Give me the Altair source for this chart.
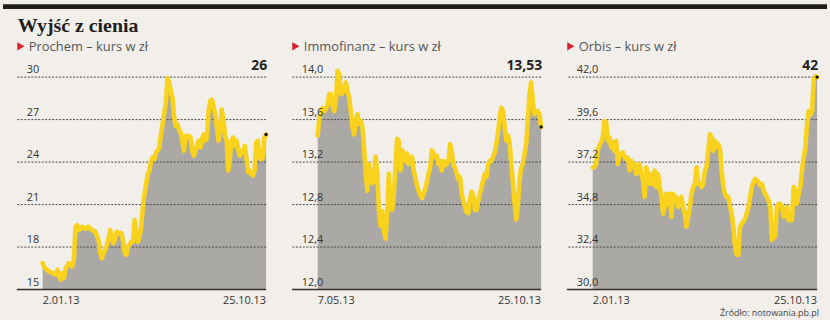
import altair as alt
import pandas as pd

# ---------------- data ----------------
prochem = [16.87, 16.6, 16.45, 16.35, 16.28, 16.2, 16.17, 16.1, 16.05, 16.4,
           15.93, 15.7, 16.17, 15.82, 16.5, 16.7, 16.87, 16.75, 16.63, 17.1,
           19.43, 19.55, 19.2, 19.3, 19.43, 19.35, 19.3, 19.4, 19.43, 19.3,
           19.2, 19.15, 19.08, 18.8, 18.5, 17.57, 17.2, 17.57, 17.8, 18.1,
           18.5, 19.2, 18.73, 18.27, 18.5, 19.08, 18.97, 19.0, 18.97, 18.38,
           17.57, 17.45, 18.03, 18.2, 18.38, 18.38, 19.9, 18.97, 18.38, 18.73,
           19.43, 20.83, 21.76, 22.46, 23.16, 23.4, 24.1, 24.33, 24.2, 24.68,
           24.8, 25.03, 25.96, 26.66, 27.48, 28.2, 29.93, 29.6, 29.0, 28.53,
           27.13, 26.55, 26.66, 26.31, 26.08, 25.5, 24.8, 25.85, 25.73, 25.85,
           25.73, 24.8, 24.45, 24.8, 25.26, 25.5, 25.03, 25.61, 25.96, 25.5,
           25.73, 27.6, 28.3, 28.41, 27.95, 27.36, 26.55, 25.5, 26.08, 27.71,
           27.0, 25.85, 25.5, 23.4, 24.33, 25.5, 25.73, 25.15, 25.5, 24.9,
           24.45, 24.8, 24.68, 25.15, 24.33, 23.28, 23.4, 23.16, 23.05, 23.4,
           25.38, 25.5, 24.33, 24.2, 24.33, 25.73, 25.95]

immofinanz = [13.45, 13.62, 13.66, 13.71, 13.68, 13.70, 13.74, 13.84, 13.84, 13.73,
              13.68, 13.77, 14.06, 14.03, 13.84, 13.85, 13.90, 13.95, 13.87, 13.81,
              13.68, 13.53, 13.46, 13.59, 13.65, 13.56, 13.59, 13.53, 13.34, 13.09,
              12.93, 13.18, 13.09, 13.00, 13.03, 13.25, 13.09, 12.75, 12.60, 12.74,
              12.56, 12.48, 12.72, 13.09, 12.78, 12.75, 12.90, 13.15, 13.42, 13.40,
              13.12, 13.31, 13.28, 13.21, 13.28, 13.18, 13.21, 13.25, 13.12, 13.06,
              12.98, 12.93, 12.89, 12.86, 12.90, 12.95, 13.01, 13.09, 13.15, 13.31,
              13.28, 13.25, 13.26, 13.18, 13.21, 13.12, 13.21, 13.17, 13.18, 13.21,
              13.37, 13.30, 13.17, 13.15, 13.09, 13.04, 13.06, 12.90, 12.84, 12.78,
              12.73, 12.72, 12.84, 12.92, 12.89, 12.75, 12.75, 12.84, 12.90, 12.96,
              13.03, 13.09, 13.06, 13.18, 13.21, 13.21, 13.25, 13.29, 13.37, 13.48,
              13.62, 13.71, 13.68, 13.53, 13.40, 13.45, 13.37, 13.18, 13.00, 12.81,
              12.66, 12.80, 13.03, 13.15, 13.18, 13.28, 13.37, 13.59, 13.84, 13.95,
              13.77, 13.65, 13.68, 13.68, 13.65, 13.53]

orbis = [36.9, 36.91, 37.09, 37.84, 38.12, 38.31, 38.59, 39.52, 39.5, 38.4,
         38.59, 38.03, 38.31, 37.84, 38.4, 37.09, 37.65, 37.65, 37.75, 37.47,
         37.37, 37.47, 36.72, 37.28, 36.91, 37.09, 36.53, 36.91, 37.09, 36.53,
         36.16, 35.23, 36.91, 36.53, 35.97, 36.53, 35.97, 36.72, 35.79, 36.53,
         35.79, 35.23, 34.29, 34.67, 35.41, 34.85, 35.41, 34.11, 35.41, 35.04,
         35.23, 34.67, 35.04, 35.23, 34.67, 34.29, 33.55, 34.11, 34.67, 35.41,
         35.79, 35.97, 36.91, 35.97, 35.97, 35.79, 35.97, 36.72, 36.91, 37.84,
         38.77, 38.59, 37.84, 38.4, 38.03, 38.21, 37.93, 36.72, 35.79, 35.41,
         35.23, 35.23, 34.67, 34.29, 33.55, 32.43, 31.96, 31.96, 33.55, 33.73,
         33.83, 34.01, 34.29, 34.67, 35.23, 35.79, 36.07, 36.25, 36.16, 36.07,
         35.88, 35.97, 35.6, 35.41, 35.23, 35.04, 34.67, 32.8, 32.99, 32.99,
         34.67, 34.85, 34.85, 34.67, 34.11, 34.29, 34.67, 33.92, 34.11, 33.92,
         35.79, 35.6, 34.85, 35.41, 35.79, 36.72, 37.47, 38.03, 39.33, 40.08,
         39.89, 40.08, 41.85, 42.04, 42.0]

prochem_ticks = [15, 18, 21, 24, 27, 30]
prochem_tick_labels = ["15", "18", "21", "24", "27", "30"]
immo_ticks = [12.0, 12.4, 12.8, 13.2, 13.6, 14.0]
immo_tick_labels = ["12,0", "12,4", "12,8", "13,2", "13,6", "14,0"]
orbis_ticks = [30.0, 32.4, 34.8, 37.2, 39.6, 42.0]
orbis_tick_labels = ["30,0", "32,4", "34,8", "37,2", "39,6", "42,0"]

subtitles = ["Prochem – kurs w zł", "Immofinanz – kurs w zł", "Orbis – kurs w zł"]
start_dates = ["2.01.13", "7.05.13", "2.01.13"]
end_date = "25.10.13"
last_labels = ["26", "13,53", "42"]

TITLE = "Wyjść z cienia"
SOURCE = "Źródło: notowania.pb.pl"

# ---------------- style ----------------
FONT = "Open Sans"
YELLOW = "#f8d21c"
GRAY = "#aaa9a5"
GRID = "#4a4a4a"
TEXT = "#333333"
BG = "#f2efea"
H = 214
LEAD = 26  # pixels between panel left edge and first data point


def panel(values, ticks, tick_labels, subtitle, start, last_label, width,
          first=False, final=False):
    n = len(values)
    lo, hi = ticks[0], ticks[-1]
    df = pd.DataFrame({"i": list(range(n)), "v": values, "base": [lo] * n})
    lead_units = LEAD * (n - 1) / (width - LEAD)
    xs = alt.Scale(domain=[-lead_units, n - 1], nice=False, zero=False)
    ys = alt.Scale(domain=[lo, hi], nice=False, zero=False)
    X = alt.X("i:Q", scale=xs, axis=None)
    Y = alt.Y("v:Q", scale=ys, axis=None)

    area = alt.Chart(df).mark_area(color=GRAY).encode(x=X, y=Y, y2="base:Q")

    tdf = pd.DataFrame({"v": ticks, "lab": tick_labels})
    grid = alt.Chart(tdf).mark_rule(color=GRID, strokeDash=[2, 1.5], strokeWidth=1).encode(y=Y)
    tlabels = alt.Chart(tdf).mark_text(
        align="left", baseline="alphabetic", dy=-4, font=FONT, fontSize=11, color=TEXT
    ).encode(x=alt.value(10), y=Y, text="lab:N")

    bdf = pd.DataFrame({"v": [lo]})
    baseline = alt.Chart(bdf).mark_rule(color="#333333", strokeWidth=1.4).encode(y=Y)

    line = alt.Chart(df).mark_line(
        color=YELLOW, strokeWidth=4.6, strokeJoin="round", strokeCap="round"
    ).encode(x=X, y=Y)

    last = df.tail(1).copy()
    last["lab"] = last_label
    dot = alt.Chart(last).mark_circle(color="#111111", size=12, opacity=1).encode(x=X, y=Y)
    vlabel = alt.Chart(last).mark_text(
        align="right", baseline="alphabetic", fontWeight="bold", fontSize=14,
        font=FONT, color="#222222", dx=1
    ).encode(x=X, y=alt.value(-7), text="lab:N")

    ddf_s = pd.DataFrame({"i": [0], "d": [start]})
    ddf_e = pd.DataFrame({"i": [n - 1], "d": [end_date]})
    d1 = alt.Chart(ddf_s).mark_text(align="left", baseline="alphabetic", font=FONT,
                                    fontSize=11, color=TEXT).encode(
        x=X, y=alt.value(H + 15), text="d:N")
    d2 = alt.Chart(ddf_e).mark_text(align="right", baseline="alphabetic", font=FONT,
                                    fontSize=11, color=TEXT).encode(
        x=X, y=alt.value(H + 15), text="d:N")

    sdf = pd.DataFrame({"s": [subtitle]})
    tri = alt.Chart(sdf).mark_point(shape="triangle-right", filled=True, size=70,
                                    color="#d8232a", opacity=1).encode(
        x=alt.value(4), y=alt.value(-31))
    sub = alt.Chart(sdf).mark_text(align="left", baseline="alphabetic", font=FONT,
                                   fontSize=13, color="#555555").encode(
        x=alt.value(12), y=alt.value(-26.5), text="s:N")

    layers = [area, grid, baseline, line, dot, vlabel, tlabels, d1, d2, tri, sub]

    if first:
        hdf = pd.DataFrame({"t": [TITLE]})
        bar = alt.Chart(hdf).mark_rule(color="#1c1c1c", strokeWidth=5).encode(
            x=alt.value(-14), x2=alt.value(816), y=alt.value(-71))
        title = alt.Chart(hdf).mark_text(
            align="left", baseline="alphabetic", font="Liberation Serif",
            fontWeight="bold", fontSize=20, color="#1e1e1e"
        ).encode(x=alt.value(1), y=alt.value(-45), text="t:N")
        layers += [bar, title]
    if final:
        srcdf = pd.DataFrame({"s": [SOURCE]})
        src = alt.Chart(srcdf).mark_text(align="right", baseline="alphabetic", font=FONT,
                                         fontSize=9, color="#444444").encode(
            x=alt.value(width + 2), y=alt.value(H + 27), text="s:N")
        layers += [src]

    return alt.layer(*layers).properties(width=width, height=H)


p1 = panel(prochem, prochem_ticks, prochem_tick_labels, subtitles[0], start_dates[0],
           last_labels[0], 251, first=True)
p2 = panel(immofinanz, immo_ticks, immo_tick_labels, subtitles[1], start_dates[1],
           last_labels[1], 251)
p3 = panel(orbis, orbis_ticks, orbis_tick_labels, subtitles[2], start_dates[2],
           last_labels[2], 252, final=True)

chart = alt.hconcat(p1, p2, p3, spacing=26, bounds="flush").properties(
    padding={"left": 0, "top": 2.5, "right": 0, "bottom": 0},
    background=BG,
).configure_view(strokeWidth=0)

chart.save("out.html", embed_options={"renderer": "svg", "actions": False})
